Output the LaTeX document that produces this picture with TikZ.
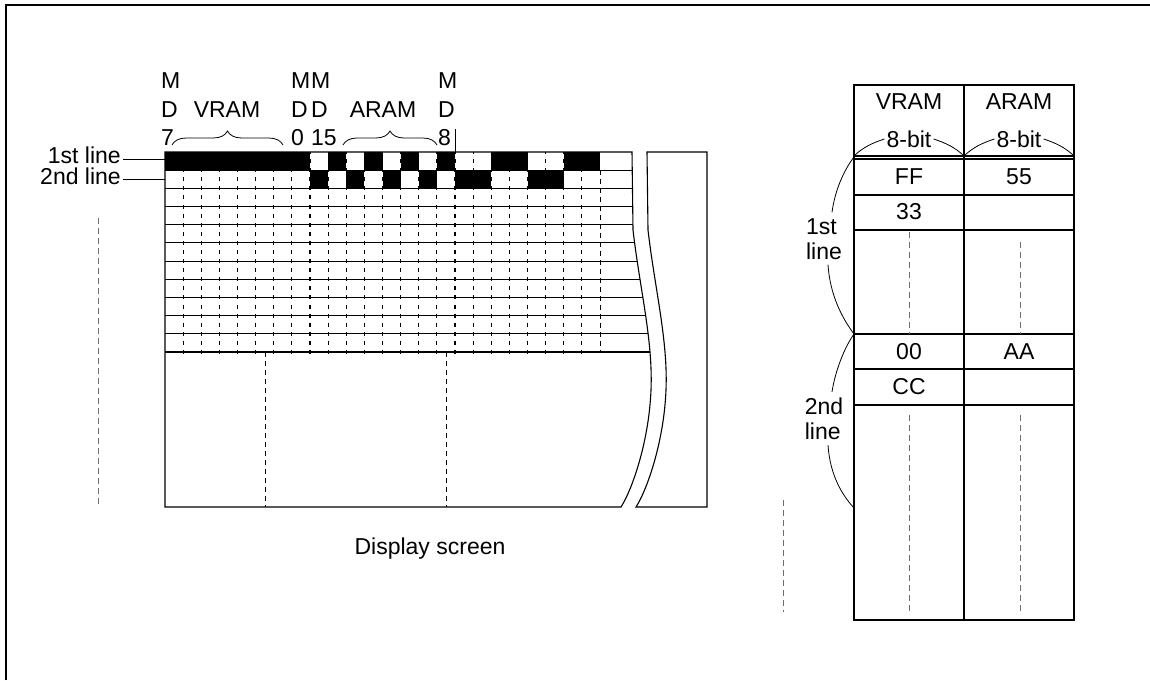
\documentclass[tikz,border=0pt]{standalone}
\usepackage{fontspec}
\setmainfont{Liberation Sans}
\usetikzlibrary{decorations.pathreplacing}
\definecolor{dotgray}{RGB}{110,110,110}

\begin{document}
\begin{tikzpicture}[x=1pt, y=-1pt,
  lbl/.style={font=\fontsize{23}{25}\selectfont, inner sep=0pt},
  gridrule/.style={line width=1.1pt},
  hair/.style={line width=0.8pt},
  celltick/.style={line width=1.2pt, dash pattern=on 4pt off 5.09pt},
  longdash/.style={line width=0.9pt, dash pattern=on 5pt off 4pt},
  graydash/.style={line width=0.9pt, dotgray, dash pattern=on 6pt off 4pt},
  curly/.style={hair, decorate, decoration={brace, amplitude=14pt}}
]
  \useasboundingbox (0,0) rectangle (1150,680);
  \draw[gridrule] (6,680) -- (6,5) -- (1150,5);

  % display screen grid
  \begin{scope}
    \clip (165,152) -- (632,152) -- (633,230) .. controls (640,290) and (653,340) .. (651,390)
      .. controls (649,440) and (633,488) .. (621,507) -- (165,507) -- cycle;
    \foreach \k in {1,...,23}
      \draw[celltick] ({165+\k*18.125},150) -- ({165+\k*18.125},354);
    \foreach \i in {1,...,11}
      \draw[gridrule] (165,{152+\i*18.18}) -- (700,{152+\i*18.18});
  \end{scope}
  \foreach \k in {0,1,2,3,4,5,6,7,9,11,13,15,18,19,22,23}
    \fill ({165+\k*18.125},152) rectangle ++(18.125,18.18);
  \foreach \k in {8,10,12,14,16,17,20,21}
    \fill ({165+\k*18.125},170.18) rectangle ++(18.125,18.18);
  \draw[longdash] (600,170) -- (600,352);
  \draw[longdash] (265,352) -- (265,507);
  \draw[longdash] (446,352) -- (446,507);
  \draw[gridrule] (165,152) -- (632,152) -- (633,230) .. controls (640,290) and (653,340) .. (651,390)
    .. controls (649,440) and (633,488) .. (621,507) -- (165,507) -- cycle;
  \draw[gridrule] (647,152) -- (648,230) .. controls (655,290) and (668,340) .. (666,390)
    .. controls (664,440) and (648,488) .. (636,507) -- (707,507) -- (707,152) -- cycle;

  % bit labels
  \foreach \x/\n/\t in {161/a/7, 291/b/0, 311/c/15, 438/d/8} {
    \node[lbl, anchor=base west] (m\n) at (\x,88) {M};
    \node[lbl, anchor=base west] (d\n) at (\x,117) {D};
    \node[lbl, anchor=base west] (n\n) at (\x,145) {\t};
  }
  \node[lbl, anchor=base] (vramtop) at (227,117) {VRAM};
  \node[lbl, anchor=base] (aramtop) at (383,117) {ARAM};
  \draw[curly] (172,145) -- (283,145);
  \draw[curly] (343,145) -- (437,145);
  \draw[hair] (455,129) -- (455,152);

  \node[lbl, anchor=base east] (lone) at (121,163.5) {1st line};
  \node[lbl, anchor=base east] (ltwo) at (121,184) {2nd line};
  \coordinate (rowone) at (165,159);
  \coordinate (rowtwo) at (165,179);
  \draw[hair] ([xshift=2pt]lone.east |- rowone) -- (rowone);
  \draw[hair] ([xshift=2pt]ltwo.east |- rowtwo) -- (rowtwo);

  \draw[graydash] (98,218) -- (98,505);
  \node[lbl, anchor=base] (screen) at (430,554) {Display screen};

  % memory table
  \draw[gridrule] (854,85) rectangle (1074,620);
  \draw[gridrule] (964,85) -- (964,620);
  \foreach \y in {156,159,195,230,334,369,405}
    \draw[gridrule] (854,\y) -- (1074,\y);
  \node[lbl] (vhead) at (909,102) {VRAM};
  \node[lbl] (ahead) at (1019,102) {ARAM};
  \node[lbl, inner sep=2pt] (vbit) at (909,139) {8-bit};
  \node[lbl, inner sep=2pt] (abit) at (1019,139) {8-bit};
  \draw[hair] (854,156) .. controls (862,148) and (872,143) .. (vbit.west);
  \draw[hair] (vbit.east) .. controls (946,143) and (956,148) .. (964,156);
  \draw[hair] (964,156) .. controls (972,148) and (982,143) .. (abit.west);
  \draw[hair] (abit.east) .. controls (1056,143) and (1066,148) .. (1074,156);
  \node[lbl] (vff) at (909,177) {FF};
  \node[lbl] (a55) at (1019,177) {55};
  \node[lbl] (v33) at (909,212) {33};
  \node[lbl] (v00) at (909,352) {00};
  \node[lbl] (aaa) at (1019,352) {AA};
  \node[lbl] (vcc) at (909,387) {CC};
  \draw[graydash] (909,232) -- (909,334);
  \draw[graydash] (1020,242) -- (1020,334);
  \draw[graydash] (909,415) -- (909,612);
  \draw[graydash] (1020,415) -- (1020,612);
  \draw[graydash] (783,500) -- (783,612);

  \node[lbl, align=left, inner sep=2pt] (first) at (824,239) {1st\\line};
  \node[lbl, align=left, inner sep=2pt] (second) at (824,419) {2nd\\line};
  \draw[hair] (854,157) .. controls (844,170) and (835,190) .. ([xshift=8pt, yshift=4pt]first.north);
  \draw[hair] ([xshift=4pt, yshift=-3pt]first.south) .. controls (830,295) and (842,318) .. (854,334);
  \draw[hair] (854,334) .. controls (844,348) and (835,372) .. ([xshift=8pt, yshift=4pt]second.north);
  \draw[hair] ([xshift=4pt, yshift=-3pt]second.south) .. controls (830,475) and (842,495) .. (854,508);
\end{tikzpicture}
\end{document}
